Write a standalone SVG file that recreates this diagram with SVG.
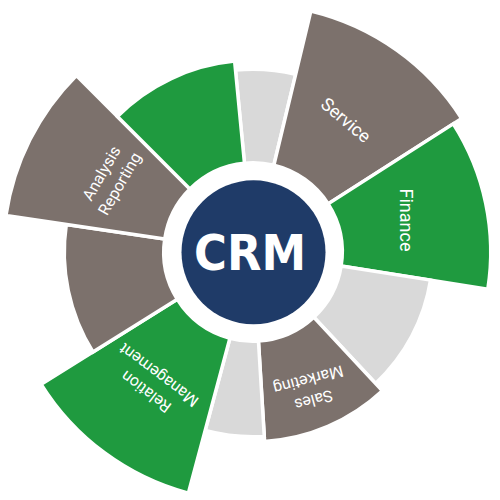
<svg xmlns="http://www.w3.org/2000/svg" width="500" height="500" viewBox="0 0 500 500">
  <style>
    .sec { stroke: #ffffff; stroke-width: 3.5; stroke-linejoin: miter; }
    .green { fill: #1f9a3f; }
    .brown { fill: #7c716c; }
    .light { fill: #d9d9d9; }
    .lbl { fill: #ffffff; font-family: Roboto, "Liberation Sans", sans-serif; text-anchor: middle; }
    .big { font-size: 18px; }
    .small { font-size: 16px; }
  </style>
  <rect width="500" height="500" fill="#ffffff"/>
  <g id="sectors">
    <g id="s1"><path class="sec light" d="M235.48 70.09 A182.75 182.75 0 0 1 295.66 74.30 L273.84 165.22 A89.25 89.25 0 0 0 244.45 163.16 Z"/></g>
    <g id="service"><path class="sec brown" d="M310.84 11.10 A247.75 247.75 0 0 1 461.68 118.46 L328.18 203.89 A89.25 89.25 0 0 0 273.84 165.22 Z"/>
      <text class="lbl big" transform="translate(346 120) rotate(40)" y="6.3">Service</text></g>
    <g id="finance"><path class="sec green" d="M453.26 123.85 A237.75 237.75 0 0 1 487.82 289.19 L341.15 265.96 A89.25 89.25 0 0 0 328.18 203.89 Z"/>
      <text class="lbl big" transform="translate(406 220) rotate(90)" y="6.3">Finance</text></g>
    <g id="s4"><path class="sec light" d="M430.54 280.12 A179.75 179.75 0 0 1 375.59 383.46 L313.87 317.27 A89.25 89.25 0 0 0 341.15 265.96 Z"/></g>
    <g id="sales"><path class="sec brown" d="M382.41 390.77 A189.75 189.75 0 0 1 264.58 441.40 L258.45 341.08 A89.25 89.25 0 0 0 313.87 317.27 Z"/>
      <text class="lbl small" transform="translate(311 390) rotate(165)"><tspan x="0" y="-5">Sales</tspan><tspan x="0" y="16">Marketing</tspan></text></g>
    <g id="s6"><path class="sec light" d="M264.28 436.40 A184.75 184.75 0 0 1 205.18 430.46 L229.90 338.21 A89.25 89.25 0 0 0 258.45 341.08 Z"/></g>
    <g id="relation"><path class="sec green" d="M188.36 493.24 A249.75 249.75 0 0 1 41.20 384.35 L177.31 299.30 A89.25 89.25 0 0 0 229.90 338.21 Z"/>
      <text class="lbl small" transform="translate(152.4 383.4) rotate(217)"><tspan x="0" y="-5">Relation</tspan><tspan x="0" y="16">Management</tspan></text></g>
    <g id="s8"><path class="sec brown" d="M92.93 352.02 A188.75 188.75 0 0 1 66.28 224.43 L164.71 238.96 A89.25 89.25 0 0 0 177.31 299.30 Z"/></g>
    <g id="analysis"><path class="sec brown" d="M5.93 215.52 A249.75 249.75 0 0 1 76.40 75.40 L189.89 188.89 A89.25 89.25 0 0 0 164.71 238.96 Z"/>
      <text class="lbl small" transform="translate(110.5 178.5) rotate(-60)"><tspan x="0" y="-5">Analysis</tspan><tspan x="0" y="16">Reporting</tspan></text></g>
    <g id="s10"><path class="sec green" d="M117.41 116.41 A191.75 191.75 0 0 1 234.62 61.13 L244.45 163.16 A89.25 89.25 0 0 0 189.89 188.89 Z"/></g>
  </g>
  <g id="crm">
    <circle cx="253.5" cy="252.3" r="72" fill="#1f3b68"/>
    <text x="250" y="270" fill="#ffffff" font-family="'DejaVu Sans', 'Liberation Sans', sans-serif" font-weight="bold" font-size="50" text-anchor="middle" textLength="112" lengthAdjust="spacingAndGlyphs">CRM</text>
  </g>
</svg>
